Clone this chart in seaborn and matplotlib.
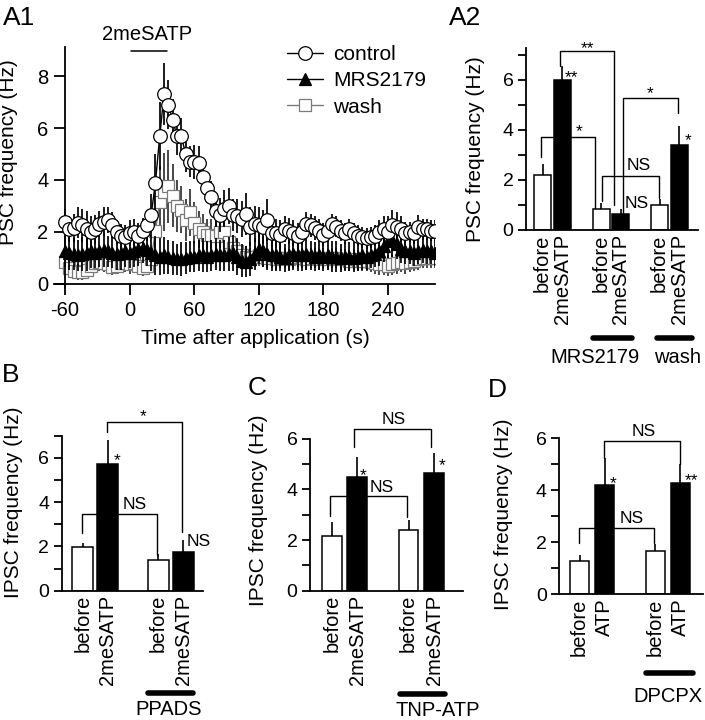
import numpy as np
import pandas as pd
import matplotlib
matplotlib.use("Agg")
import matplotlib.pyplot as plt
import matplotlib.transforms as mt
import seaborn as sns

sns.set_theme(style="ticks")
plt.rcParams['font.family'] = ['Liberation Sans', 'DejaVu Sans']
plt.rcParams.update({
    'axes.linewidth': 1.3,
    'xtick.major.width': 1.3, 'ytick.major.width': 1.3,
    'ytick.minor.width': 1.3,
    'xtick.direction': 'out', 'ytick.direction': 'out',
    'text.color': 'black', 'axes.labelcolor': 'black',
    'xtick.color': 'black', 'ytick.color': 'black',
    'axes.edgecolor': 'black',
})

# ---------------- A1 data (time course) ----------------
time_s = np.arange(-60, 285, 4)
control_mean = [2.40, 2.10, 2.15, 2.35, 2.25, 2.10, 2.00, 2.10, 2.30, 2.40,
                2.45, 2.25, 2.00, 1.85, 1.80, 1.95, 2.00, 1.85, 2.05, 2.25,
                2.65, 3.90, 5.70, 7.30, 6.90, 6.30, 5.70, 5.70, 5.00, 4.70,
                4.70, 4.65, 4.10, 3.70, 3.35, 2.80, 2.65, 2.90, 3.00, 2.65,
                2.60, 2.50, 2.70, 2.20, 2.30, 2.25, 2.20, 2.45, 1.95, 1.95,
                1.90, 2.10, 2.05, 1.95, 1.85, 2.00, 2.30, 2.25, 2.15, 2.05,
                1.90, 2.05, 2.30, 2.20, 2.05, 1.95, 2.10, 1.95, 1.85, 1.80,
                1.75, 1.80, 1.85, 2.00, 2.10, 2.00, 2.25, 2.20, 2.10, 1.95,
                2.00, 1.95, 2.20, 2.10, 2.10, 2.05, 2.05]
control_sem = [0.50, 0.50, 0.55, 0.60, 0.65, 0.70, 0.60, 0.55, 0.50, 0.55,
               0.50, 0.50, 0.45, 0.45, 0.45, 0.50, 0.50, 0.50, 0.50, 0.60,
               0.80, 1.10, 1.30, 1.20, 0.95, 0.80, 0.75, 0.70, 0.70, 0.60,
               0.65, 0.65, 0.60, 0.60, 0.60, 0.60, 0.65, 0.70, 0.70, 0.60,
               0.65, 0.70, 0.80, 0.75, 0.70, 0.70, 0.65, 0.80, 0.60, 0.55,
               0.55, 0.50, 0.50, 0.50, 0.50, 0.50, 0.45, 0.45, 0.45, 0.45,
               0.45, 0.40, 0.40, 0.40, 0.40, 0.40, 0.40, 0.40, 0.40, 0.40,
               0.40, 0.40, 0.40, 0.45, 0.50, 0.60, 0.60, 0.55, 0.50, 0.45,
               0.40, 0.40, 0.45, 0.40, 0.40, 0.40, 0.40]
mrs_mean = [1.25, 1.20, 1.15, 1.10, 1.15, 1.20, 1.25, 1.20, 1.25, 1.30,
            1.25, 1.20, 1.15, 1.20, 1.25, 1.20, 1.25, 1.35, 1.40, 1.30,
            1.20, 1.10, 1.05, 1.10, 1.05, 1.00, 0.95, 0.95, 1.00, 1.05,
            1.05, 1.10, 1.10, 1.05, 1.10, 1.15, 1.10, 1.10, 1.15, 1.20,
            1.05, 0.90, 0.85, 0.95, 1.15, 1.35, 1.25, 1.15, 1.10, 1.10,
            1.05, 1.00, 1.10, 1.15, 1.10, 1.10, 1.15, 1.10, 1.05, 1.10,
            1.05, 1.10, 1.05, 1.05, 1.00, 1.05, 1.05, 1.00, 1.05, 1.10,
            1.05, 1.10, 1.15, 1.25, 1.45, 1.65, 1.70, 1.55, 1.35, 1.25,
            1.25, 1.20, 1.25, 1.30, 1.25, 1.25, 1.20]
mrs_sem = [0.60, 0.65, 0.60, 0.60, 0.65, 0.70, 0.65, 0.60, 0.60, 0.65,
           0.60, 0.60, 0.60, 0.65, 0.60, 0.60, 0.60, 0.65, 0.60, 0.60,
           0.70, 0.75, 0.70, 0.70, 0.65, 0.65, 0.60, 0.65, 0.60, 0.60,
           0.60, 0.60, 0.65, 0.60, 0.60, 0.60, 0.60, 0.60, 0.65, 0.70,
           0.70, 0.65, 0.60, 0.65, 0.60, 0.60, 0.60, 0.60, 0.60, 0.60,
           0.55, 0.55, 0.60, 0.60, 0.60, 0.60, 0.60, 0.55, 0.55, 0.55,
           0.55, 0.55, 0.60, 0.60, 0.55, 0.55, 0.55, 0.55, 0.55, 0.55,
           0.50, 0.50, 0.50, 0.55, 0.60, 0.65, 0.65, 0.60, 0.55, 0.50,
           0.50, 0.50, 0.50, 0.50, 0.50, 0.50, 0.50]
wash_mean = [0.85, 0.60, 0.50, 0.45, 0.45, 0.55, 0.70, 0.80, 0.85, 0.80,
             0.75, 0.65, 0.70, 0.80, 0.80, 0.75, 0.80, 0.70, 0.60, 0.70,
             0.95, 2.05, 3.15, 3.55, 3.75, 3.40, 3.00, 2.85, 2.45, 2.75,
             2.35, 2.10, 2.00, 1.90, 1.90, 1.85, 2.00, 2.00, 1.60, 1.40,
             1.25, 1.10, 1.05, 1.00, 1.05, 1.10, 1.05, 1.00, 1.00, 0.95,
             1.00, 1.00, 0.95, 1.00, 1.05, 1.00, 0.95, 1.00, 1.00, 0.95,
             1.00, 0.95, 1.00, 1.00, 0.95, 0.95, 0.90, 0.95, 0.90, 0.90,
             0.90, 0.85, 0.80, 0.75, 0.75, 0.70, 0.75, 0.80, 0.85, 0.80,
             0.85, 0.90, 0.95, 1.00, 1.00, 1.00, 1.00]
wash_sem = [0.40, 0.35, 0.30, 0.30, 0.30, 0.30, 0.35, 0.35, 0.35, 0.35,
            0.35, 0.30, 0.30, 0.35, 0.35, 0.35, 0.35, 0.30, 0.30, 0.35,
            0.50, 1.20, 1.40, 1.50, 1.40, 1.20, 1.00, 0.90, 0.80, 0.90,
            0.80, 0.70, 0.70, 0.60, 0.60, 0.60, 0.60, 0.60, 0.50, 0.50,
            0.45, 0.40, 0.40, 0.40, 0.40, 0.40, 0.40, 0.40, 0.40, 0.40,
            0.40, 0.40, 0.40, 0.40, 0.40, 0.40, 0.40, 0.40, 0.40, 0.40,
            0.40, 0.40, 0.40, 0.40, 0.40, 0.40, 0.40, 0.40, 0.40, 0.40,
            0.40, 0.40, 0.40, 0.40, 0.40, 0.40, 0.40, 0.40, 0.40, 0.40,
            0.40, 0.40, 0.40, 0.40, 0.40, 0.40, 0.40]
a1_xticks = [-60, 0, 60, 120, 180, 240]
a1_yticks = [0, 2, 4, 6, 8]

# ---------------- Bar panel data ----------------
a2_pos = [0, 1, 3, 4, 6, 7]
a2_labels = ["before", "2meSATP", "before", "2meSATP", "before", "2meSATP"]
a2_kind = ["before", "drug", "before", "drug", "before", "drug"]
a2_vals = [2.2, 6.0, 0.85, 0.65, 1.0, 3.4]
a2_err = [0.45, 0.55, 0.25, 0.20, 0.25, 0.75]

b_pos = [0, 1, 3, 4]
b_labels = ["before", "2meSATP", "before", "2meSATP"]
b_kind = ["before", "drug", "before", "drug"]
b_vals = [1.95, 5.7, 1.4, 1.75]
b_err = [0.22, 1.1, 0.24, 0.53]

c_pos = [0, 1, 3, 4]
c_labels = ["before", "2meSATP", "before", "2meSATP"]
c_kind = ["before", "drug", "before", "drug"]
c_vals = [2.15, 4.5, 2.38, 4.65]
c_err = [0.55, 0.78, 0.42, 0.80]

d_pos = [0, 1, 3, 4]
d_labels = ["before", "ATP", "before", "ATP"]
d_kind = ["before", "drug", "before", "drug"]
d_vals = [1.28, 4.2, 1.65, 4.3]
d_err = [0.23, 1.03, 0.28, 0.71]

W, H = 705, 720
fig = plt.figure(figsize=(W / 100, H / 100), dpi=100)


def rect(left_px, right_px, bottom_px, top_px):
    return [left_px / W, 1 - bottom_px / H, (right_px - left_px) / W, (bottom_px - top_px) / H]


# ================= A1 =================
ax1 = fig.add_axes(rect(54, 435, 287.1, 46.9))
series = [
    ("wash", wash_mean, wash_sem, "s", "white", "#7a7a7a", "#7a7a7a", "#303030", 8.5, 1),
    ("MRS2179", mrs_mean, mrs_sem, "^", "black", "black", "black", "black", 8.5, 3),
    ("control", control_mean, control_sem, "o", "white", "black", "black", "black", 9.8, 5),
]
for name, m, e, mk, fc, ec, lc, errc, ms, z in series:
    ax1.errorbar(time_s, m, yerr=e, fmt="none", ecolor=errc, elinewidth=1.25,
                 capsize=0, zorder=z)
    sns.lineplot(x=time_s, y=m, color=lc, linewidth=1.0, marker=mk, markersize=ms,
                 markerfacecolor=fc, markeredgecolor=ec, markeredgewidth=0.9,
                 errorbar=None, label=name, zorder=z + 1, ax=ax1)

ax1.set_xlim(-70.2, 283.6)
ax1.set_ylim(-0.12, 9.12)
ax1.spines['left'].set_position(('data', -60))
ax1.spines['bottom'].set_position(('data', 0))
sns.despine(ax=ax1)
ax1.set_xticks(a1_xticks)
ax1.set_xticklabels([str(v) for v in a1_xticks])
ax1.set_yticks(a1_yticks)
ax1.tick_params(axis='both', labelsize=14.5, length=8, pad=4)
ax1.set_xlabel("Time after application (s)", fontsize=15)
ax1.set_ylabel("PSC frequency (Hz)", fontsize=15)
ax1.xaxis.set_label_coords(0.528, -0.175)
ax1.yaxis.set_label_coords((18 - 54) / 381, 0.56)

ax1.plot([1, 35], [8.96, 8.96], color="black", lw=1.1, clip_on=False)
ax1.text(16, 9.6, "2meSATP", fontsize=14.5, ha="center", va="center")

handles, labels = ax1.get_legend_handles_labels()
hmap = dict(zip(labels, handles))
ax1.legend([hmap["control"], hmap["MRS2179"], hmap["wash"]],
           ["control", "MRS2179", "wash"], loc="upper left",
           bbox_to_anchor=(287 / W, 1 - 45 / H), bbox_transform=fig.transFigure,
           frameon=False, fontsize=15, handlelength=1.75, handletextpad=0.45,
           labelspacing=0.35, borderpad=0, borderaxespad=0, numpoints=1)


# ================= bar panels =================
def bar_panel(r, pos, vals, errs, kinds, labels, width, xlim, ylim, minor, ylabel,
              ylab_xy):
    ax = fig.add_axes(r)
    df = pd.DataFrame({"pos": pos, "value": vals, "kind": kinds})
    sns.barplot(data=df, x="pos", y="value", hue="kind",
                palette={"before": "white", "drug": "black"}, native_scale=True,
                dodge=False, width=width, edgecolor="black", linewidth=1.1,
                errorbar=None, legend=False, ax=ax)
    ax.errorbar(pos, vals, yerr=[np.zeros(len(errs)), errs], fmt="none",
                ecolor="black", elinewidth=1.2, capsize=0, zorder=3)
    ax.set_xlim(*xlim)
    ax.set_ylim(*ylim)
    sns.despine(ax=ax)
    ax.set_xticks(pos)
    ax.set_xticklabels(labels, rotation=90, fontsize=14.5)
    ax.tick_params(axis='x', length=0, pad=3)
    ax.set_yticks([t for t in range(0, int(ylim[1]) + 1, 2)])
    ax.set_yticks(minor, minor=True)
    ax.tick_params(axis='y', which='both', length=6, labelsize=14, pad=3)
    ax.set_xlabel("")
    ax.set_ylabel(ylabel, fontsize=15)
    ax.yaxis.set_label_coords(*ylab_xy)
    return ax


def bracket(ax, x1, x2, y, y1, y2):
    ax.plot([x1, x1, x2, x2], [y1, y, y, y2], color="black", lw=1.0,
            clip_on=False, zorder=5)


def sig(ax, x, y, s, ha="center"):
    ax.text(x, y, s, fontsize=12.5, ha=ha, va="center", zorder=6)


def drugbar(ax, x1, x2, yf, text, xt, yt):
    tr = mt.blended_transform_factory(ax.transData, ax.transAxes)
    ax.plot([x1, x2], [yf, yf], color="black", lw=4, solid_capstyle="round",
            transform=tr, clip_on=False)
    ax.text(xt, yt, text, fontsize=14.5, ha="center", va="center", transform=tr)


# A2
axA2 = bar_panel(rect(526, 698, 230, 48), a2_pos, a2_vals, a2_err, a2_kind, a2_labels,
                 0.87, (-0.846, 7.97), (0, 7.28), [1, 3, 5, 7], "PSC frequency (Hz)",
                 ((485 - 526) / 172, 0.445))
bracket(axA2, 0.90, 3.68, 7.16, 6.55, 1.0)
bracket(axA2, -0.08, 2.69, 3.73, 2.93, 0.9)
bracket(axA2, 3.03, 5.97, 2.17, 1.15, 1.3)
bracket(axA2, 4.11, 6.97, 5.27, 0.7, 4.67)
sig(axA2, 2.3, 7.25, "**")
sig(axA2, 1.87, 3.93, "*")
sig(axA2, 5.51, 5.45, "*")
sig(axA2, 1.46, 6.09, "**")
sig(axA2, 7.45, 3.58, "*")
sig(axA2, 4.91, 2.57, "NS")
sig(axA2, 4.83, 1.04, "NS")
drugbar(axA2, 2.6, 4.6, -0.592, "MRS2179", 2.69, -0.70)
drugbar(axA2, 5.85, 7.65, -0.592, "wash", 6.9, -0.70)

# B
axB = bar_panel(rect(61.7, 203.3, 590.7, 435.5), b_pos, b_vals, b_err, b_kind, b_labels,
                0.84, (-0.85, 4.81), (0, 7.0), [1, 3, 5, 7], "IPSC frequency (Hz)",
                ((23 - 61.7) / 141.6, 0.568))
bracket(axB, 0.95, 3.95, 7.62, 7.17, 2.66)
bracket(axB, -0.05, 2.95, 3.46, 2.59, 1.61)
sig(axB, 2.41, 7.83, "*")
sig(axB, 2.08, 3.91, "NS")
sig(axB, 1.35, 5.88, "*")
sig(axB, 4.61, 2.21, "NS")
drugbar(axB, 2.6, 4.4, -0.657, "PPADS", 3.44, -0.765)

# C
axC = bar_panel(rect(310, 463.3, 590.7, 438.7), c_pos, c_vals, c_err, c_kind, c_labels,
                0.77, (-0.85, 5.14), (0, 6.0), [1, 3, 5], "IPSC frequency (Hz)",
                ((268 - 310) / 153.3, 0.53))
bracket(axC, 0.87, 3.88, 6.4, 5.66, 5.66)
bracket(axC, -0.07, 2.93, 3.74, 2.95, 2.9)
sig(axC, 2.41, 6.74, "NS")
sig(axC, 1.94, 4.07, "NS")
sig(axC, 1.24, 4.55, "*")
sig(axC, 4.30, 4.94, "*")
drugbar(axC, 2.68, 4.42, -0.682, "TNP-ATP", 4.15, -0.79)

# D
axD = bar_panel(rect(559.3, 703, 594.3, 438.3), d_pos, d_vals, d_err, d_kind, d_labels,
                0.75, (-0.81, 4.9), (0, 6.0), [1, 3, 5], "IPSC frequency (Hz)",
                ((513 - 559.3) / 143.7, 0.51))
bracket(axD, 0.97, 3.98, 5.9, 5.23, 5.03)
bracket(axD, -0.03, 2.96, 2.54, 1.98, 1.96)
sig(axD, 2.53, 6.25, "NS")
sig(axD, 2.06, 2.92, "NS")
sig(axD, 1.33, 4.27, "*")
sig(axD, 4.44, 4.37, "**")
drugbar(axD, 2.63, 4.5, -0.506, "DPCPX", 3.52, -0.657)

# panel labels
for txt, x, y in [("A1", 3, 25), ("A2", 449, 25), ("B", 2, 382),
                  ("C", 248, 395), ("D", 488, 397)]:
    fig.text(x / W, 1 - y / H, txt, fontsize=19, ha="left", va="baseline")

fig.savefig("out.png", dpi=100)
